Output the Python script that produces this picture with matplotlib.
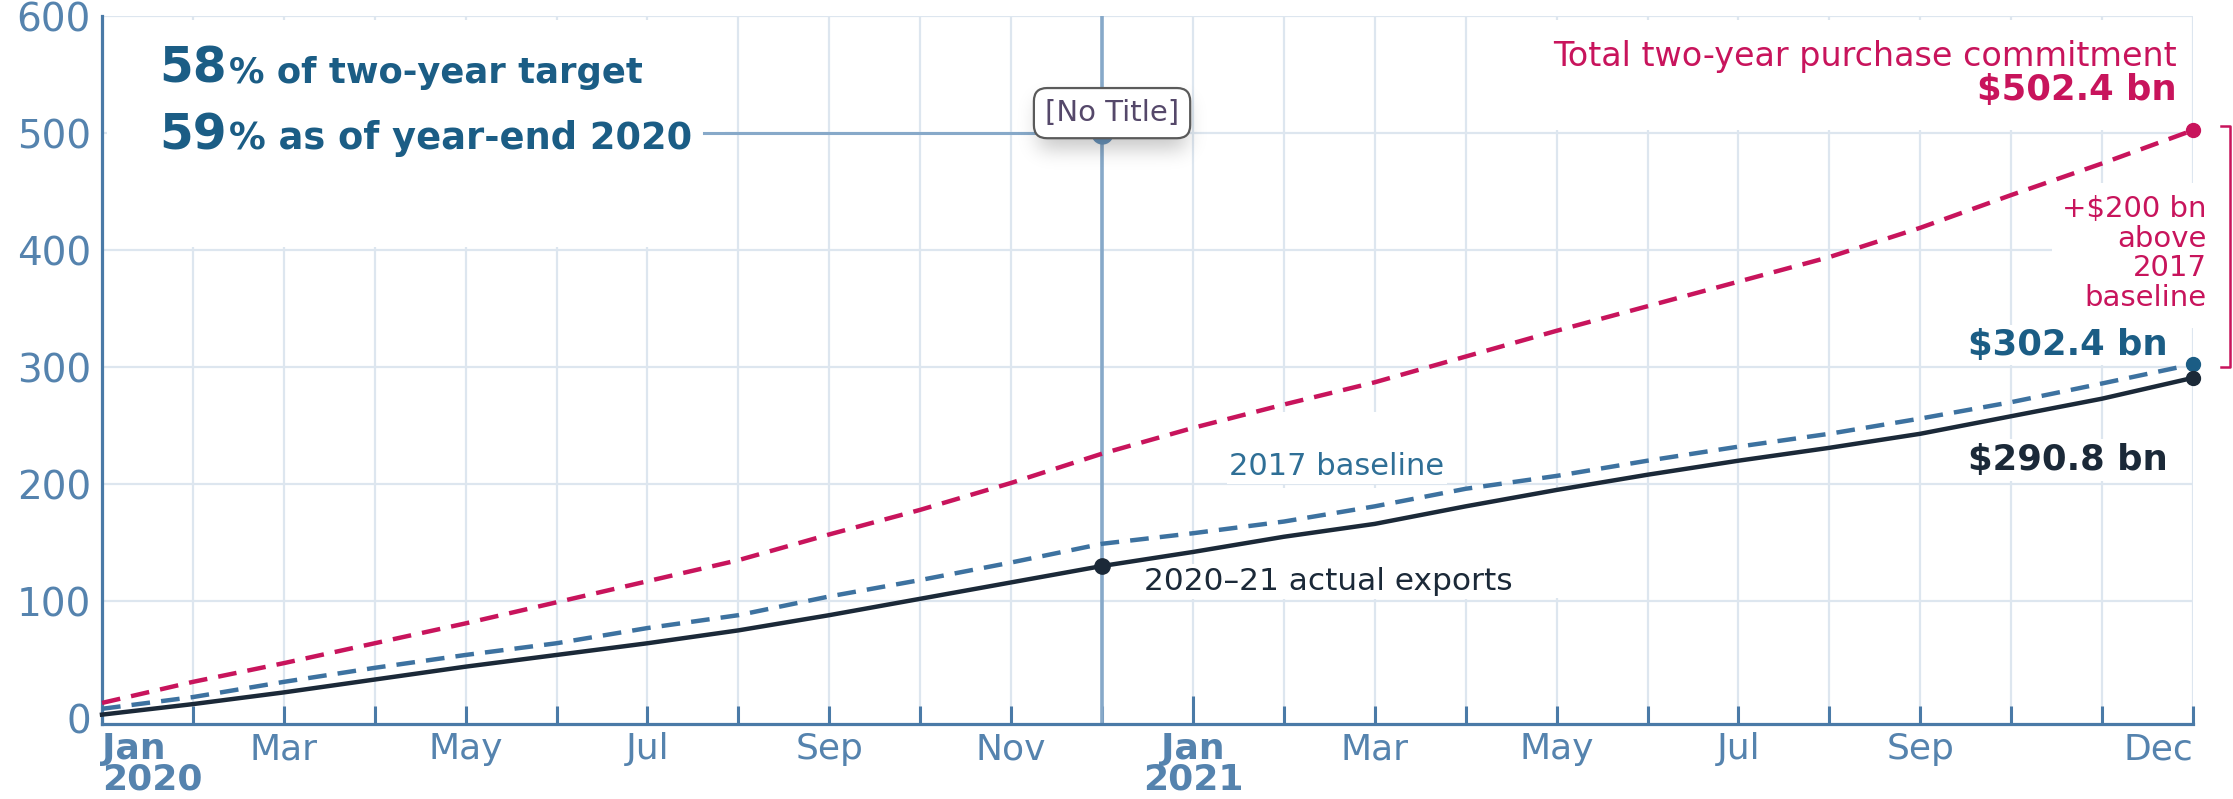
import math
import matplotlib
matplotlib.use("Agg")
import matplotlib.pyplot as plt
from matplotlib.patches import Rectangle
from matplotlib import transforms
import numpy as np

# ---- data (US$ bn, cumulative since Jan 2020) ----
month_labels = ["Jan\n2020", "", "Mar", "", "May", "", "Jul", "", "Sep", "", "Nov", "",
                "Jan\n2021", "", "Mar", "", "May", "", "Jul", "", "Sep", "", "", "Dec"]
purchase_commitment = [13, 31, 47, 64, 81, 99, 117, 135, 157, 178, 201, 226,
                       248, 268, 287, 309, 331, 352, 373, 394, 419, 447, 474, 502.4]
baseline_2017 = [8, 18, 31, 43, 54, 64, 77, 88, 104, 118, 133, 149,
                 158, 168, 181, 196, 207, 220, 232, 243, 256, 270, 286, 302.4]
actual_exports = [3, 12, 22, 33, 44, 54, 64, 75, 88, 102, 116, 130,
                  142, 155, 166, 181, 195, 208, 220, 231, 243, 258, 273, 290.8]
y_ticks = [0, 100, 200, 300, 400, 500, 600]
share_of_target = "58"
share_year_end_2020 = "59"
marker_month = 11          # Dec 2020
marker_value = 500

# ---- colours ----
RED = "#c8145c"
TEAL = "#1b5d85"
DASH_BLUE = "#3d72a0"
NAVY = "#1b2938"
AXIS_BLUE = "#4a7aa7"
TICK_TEXT = "#5583ae"
GRID = "#dde6ef"
HILITE = "#87a9c9"

plt.rcParams["font.family"] = ["DejaVu Sans"]

W, H = 2233, 799
fig = plt.figure(figsize=(W / 100, H / 100), dpi=100)
ax = fig.add_axes([102 / W, 1 - 724 / H, (2193 - 102) / W, (724 - 16) / H])

x = np.arange(len(actual_exports))
XLIM, YLIM = (0, 23), (-5, 600)

# axes styling
for side in ("top", "right"):
    ax.spines[side].set_visible(False)
for side in ("left", "bottom"):
    ax.spines[side].set_color(AXIS_BLUE)
    ax.spines[side].set_linewidth(2.3)

ax.set_xticks(x)
ax.set_xticklabels(month_labels)
ax.set_yticks(y_ticks)
ax.set_yticklabels([str(v) for v in y_ticks])
ax.tick_params(axis="x", direction="in", length=13, width=2.2, color=AXIS_BLUE,
               pad=6, labelsize=26, labelcolor=TICK_TEXT)
ax.tick_params(axis="y", length=0, pad=8, labelsize=28, labelcolor=TICK_TEXT)
xlabels = ax.get_xticklabels()
for lbl in xlabels:
    lbl.set_linespacing(0.85)
    if "\n" in lbl.get_text():
        lbl.set_fontweight("bold")
# first and last labels sit inside the plot edges
xlabels[0].set_horizontalalignment("left")
xlabels[0].set_multialignment("left")
xlabels[-1].set_horizontalalignment("right")
# year boundary tick
jan21 = ax.xaxis.get_major_ticks()[12]
jan21.tick1line.set_color(NAVY)
jan21.tick1line.set_markersize(20)

ax.set_axisbelow(True)
ax.grid(True, color=GRID, lw=1.6)
ax.yaxis.get_gridlines()[0].set_visible(False)

# white panels keeping annotation areas clear of the grid
for (x0, x1, y0, y1) in [(0.05, 6.85, 403, 597),
                         (15.3, 22.95, 503, 597),
                         (21.45, 23.3, 333, 457),
                         (12.3, 16.6, 103, 197),
                         (12.55, 14.85, 203, 262)]:
    ax.add_patch(Rectangle((x0, y0), x1 - x0, y1 - y0, fc="white", ec="none", zorder=1))

# highlight crosshair at Dec 2020
ax.axvline(marker_month, color=HILITE, lw=2.6, zorder=1.5)
ax.plot([6.62, marker_month], [marker_value, marker_value], color=HILITE, lw=2.2, zorder=1.5)

# series
ax.plot(x, purchase_commitment, color=RED, lw=3.2, dashes=(4.2, 2.5), zorder=3, clip_on=False)
ax.plot(x, baseline_2017, color=DASH_BLUE, lw=3.2, dashes=(4.2, 2.5), zorder=3, clip_on=False)
ax.plot(x, actual_exports, color=NAVY, lw=3.2, zorder=4, clip_on=False)

# end points
ax.plot(x[-1], purchase_commitment[-1], "o", ms=10, color=RED, zorder=5, clip_on=False)
ax.plot(x[-1], baseline_2017[-1], "o", ms=10, color=TEAL, zorder=5, clip_on=False)
ax.plot(x[-1], actual_exports[-1], "o", ms=10, color=NAVY, zorder=5, clip_on=False)
ax.plot(marker_month, actual_exports[marker_month], "o", ms=11, color=NAVY, zorder=5)

# tooltip marker
ax.plot(marker_month, marker_value, "o", ms=15, color="#6c98c0", zorder=3)

# soft drop shadow beneath the tooltip box
sx0, sx1, sy0, sy1 = 9.7, 12.5, 440, 545
bx0, bx1, by0, by1 = 10.3, 11.92, 486, 528
sig_x, sig_y = 0.16, 12.0
gx = np.linspace(sx0, sx1, 240)
gy = np.linspace(sy0, sy1, 120)
erf = np.vectorize(math.erf)
px = 0.5 * (erf((gx - bx0) / sig_x) - erf((gx - bx1) / sig_x))
py = 0.5 * (erf((gy - by0) / sig_y) - erf((gy - by1) / sig_y))
alpha = 0.22 * np.outer(py, px)
shadow = np.zeros((len(gy), len(gx), 4))
shadow[..., 3] = alpha
ax.imshow(shadow, extent=(sx0, sx1, sy0, sy1), origin="lower", aspect="auto",
          interpolation="bilinear", zorder=5.5)

ax.text(11.11, 517, "[No Title]", ha="center", va="center", fontsize=21, color="#55486a",
        zorder=6,
        bbox=dict(boxstyle="round,pad=0.38,rounding_size=0.45", fc="white", ec="#5a5a5a", lw=1.6))

ax.set_xlim(*XLIM)
ax.set_ylim(*YLIM)

# headline figures, top left
fig.canvas.draw()
renderer = fig.canvas.get_renderer()
inv = ax.transData.inverted()


def big_small(xpos, ybase, big, small, small_size):
    t = ax.text(xpos, ybase, big, fontsize=35, fontweight="bold", color=TEAL,
                va="baseline", ha="left", zorder=6)
    bb = t.get_window_extent(renderer=renderer)
    x_end = inv.transform((bb.x1 + 2, 0))[0]
    ax.text(x_end, ybase, small, fontsize=small_size, fontweight="bold", color=TEAL,
            va="baseline", ha="left", zorder=6)


big_small(0.63, 543, share_of_target, "% of two-year target", 25.5)
big_small(0.63, 486, share_year_end_2020, "% as of year-end 2020", 26.5)

# right-hand annotations
ax.text(22.82, 565, "Total two-year purchase commitment", ha="right", va="center",
        fontsize=24, color=RED, zorder=6)
ax.text(22.82, 537, f"${purchase_commitment[-1]:.1f} bn", ha="right", va="center",
        fontsize=25.5, fontweight="bold", color=RED, zorder=6)
ax.text(23.15, 397, "+$200 bn\nabove\n2017\nbaseline", ha="right", va="center",
        multialignment="right", linespacing=1.08, fontsize=21, color=RED, zorder=6,
        clip_on=False)
ax.text(22.72, 319, f"${baseline_2017[-1]:.1f} bn", ha="right", va="center",
        fontsize=25.5, fontweight="bold", color=TEAL, zorder=6,
        bbox=dict(fc="white", ec="none", pad=2))
ax.text(22.72, 220.5, f"${actual_exports[-1]:.1f} bn", ha="right", va="center",
        fontsize=25.5, fontweight="bold", color=NAVY, zorder=6,
        bbox=dict(fc="white", ec="none", pad=3))
ax.text(12.4, 215, "2017 baseline", ha="left", va="center", fontsize=22,
        color="#2f6f96", zorder=6, bbox=dict(fc="white", ec="none", pad=2))
ax.text(11.46, 117, "2020\u201321 actual exports", ha="left", va="center", fontsize=22.5,
        color=NAVY, zorder=6, bbox=dict(fc="white", ec="none", pad=2))

# bracket spanning the gap between commitment and baseline
blend = transforms.blended_transform_factory(ax.transAxes, ax.transData)
xa = (2230 - 102) / (2193 - 102)
xb = (2221 - 102) / (2193 - 102)
ax.plot([xb, xa, xa, xb], [purchase_commitment[-1] + 4, purchase_commitment[-1] + 4,
                           baseline_2017[-1] - 2, baseline_2017[-1] - 2],
        color=RED, lw=1.8, transform=blend, clip_on=False, zorder=6)

fig.savefig("out.png", dpi=100)
